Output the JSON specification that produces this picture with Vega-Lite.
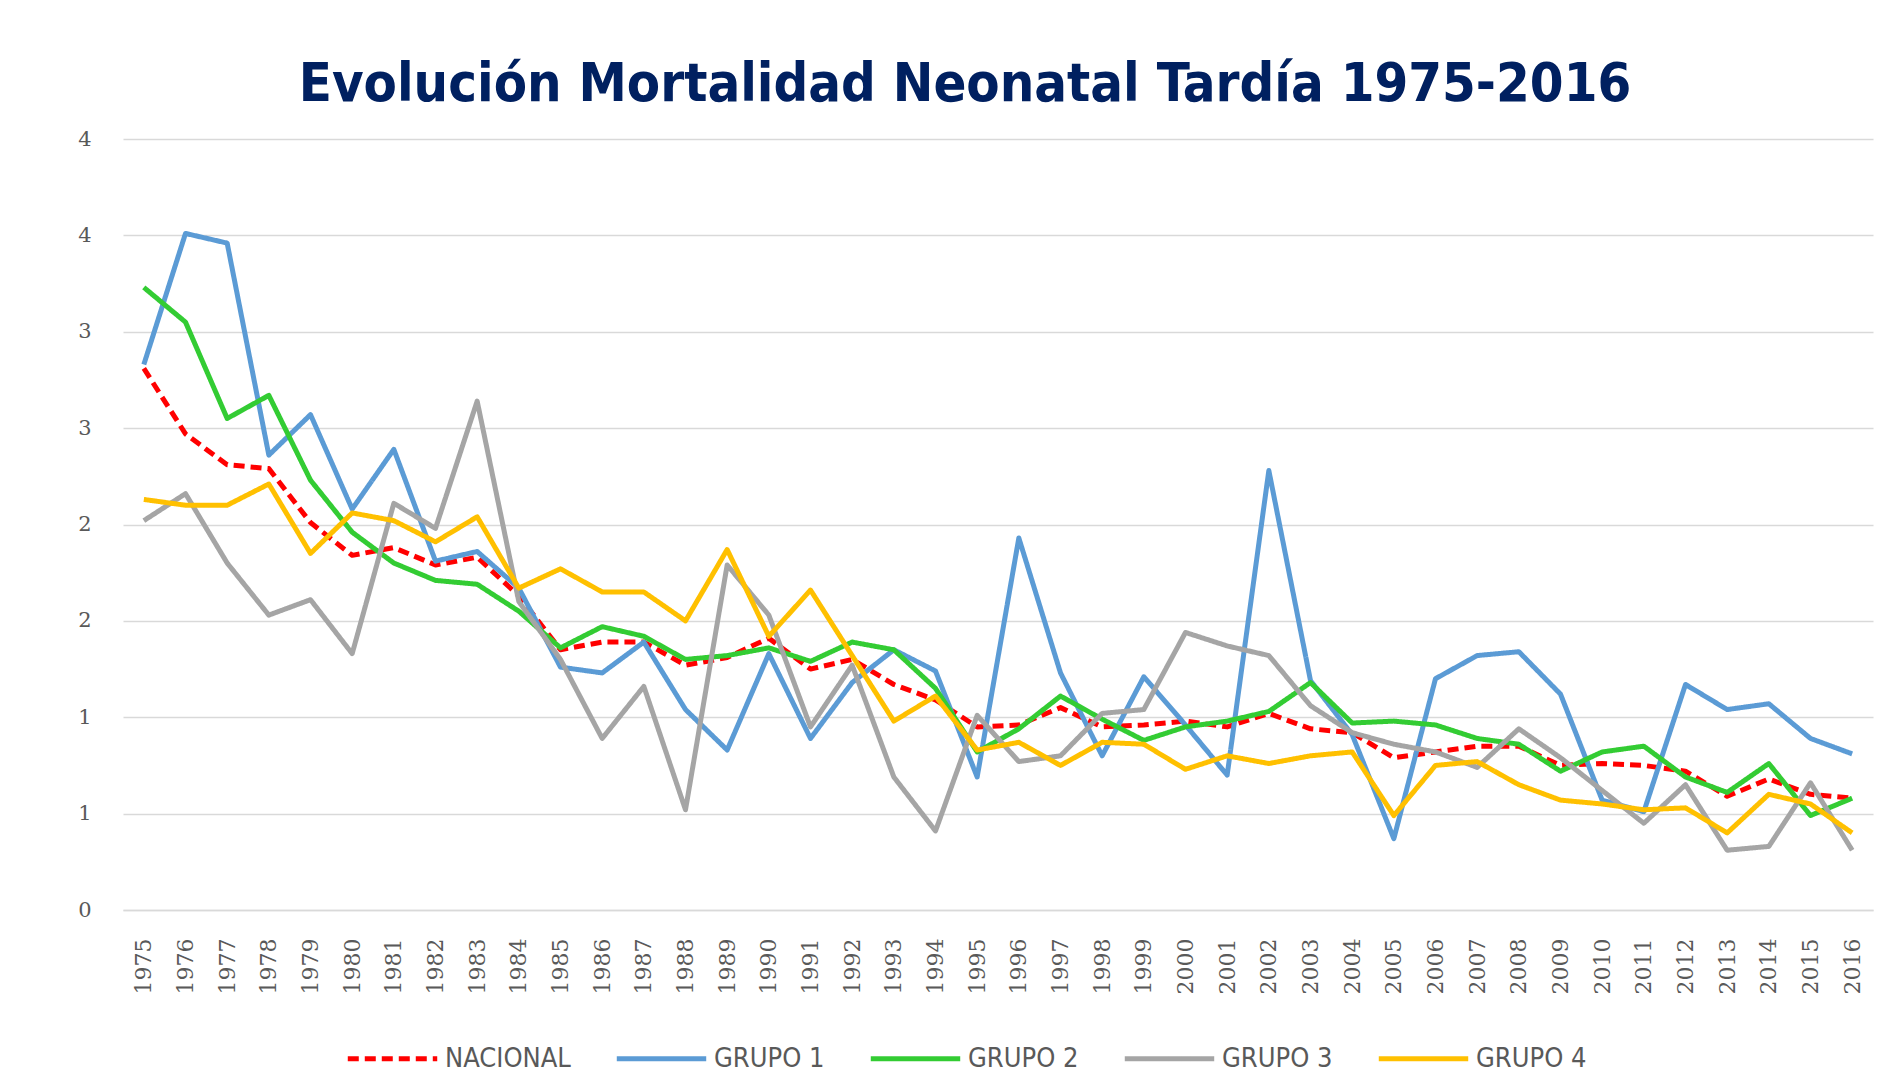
{
 "$schema": "https://vega.github.io/schema/vega-lite/v6.json",
 "width": 1750,
 "height": 771,
 "autosize": "none",
 "padding": {"left": 123, "top": 139, "right": 5, "bottom": 163},
 "background": "white",
 "config": {"view": {"stroke": null}},
 "title": {
  "text": "Evolución Mortalidad Neonatal Tardía 1975-2016",
  "font": "Liberation Sans Narrow, DejaVu Sans Condensed, sans-serif",
  "fontSize": 54,
  "fontWeight": "bold",
  "color": "#002060",
  "anchor": "middle",
  "frame": "group",
  "dx": -33,
  "dy": 68,
  "baseline": "alphabetic",
  "offset": 41
 },
 "datasets": {
  "tabla": [
   {"anio":"1975","NACIONAL":2.81,"GRUPO 1":2.83,"GRUPO 2":3.23,"GRUPO 3":2.02,"GRUPO 4":2.13},
   {"anio":"1976","NACIONAL":2.47,"GRUPO 1":3.51,"GRUPO 2":3.05,"GRUPO 3":2.16,"GRUPO 4":2.10},
   {"anio":"1977","NACIONAL":2.31,"GRUPO 1":3.46,"GRUPO 2":2.55,"GRUPO 3":1.80,"GRUPO 4":2.10},
   {"anio":"1978","NACIONAL":2.29,"GRUPO 1":2.36,"GRUPO 2":2.67,"GRUPO 3":1.53,"GRUPO 4":2.21},
   {"anio":"1979","NACIONAL":2.01,"GRUPO 1":2.57,"GRUPO 2":2.23,"GRUPO 3":1.61,"GRUPO 4":1.85},
   {"anio":"1980","NACIONAL":1.84,"GRUPO 1":2.08,"GRUPO 2":1.96,"GRUPO 3":1.33,"GRUPO 4":2.06},
   {"anio":"1981","NACIONAL":1.88,"GRUPO 1":2.39,"GRUPO 2":1.80,"GRUPO 3":2.11,"GRUPO 4":2.02},
   {"anio":"1982","NACIONAL":1.79,"GRUPO 1":1.81,"GRUPO 2":1.71,"GRUPO 3":1.98,"GRUPO 4":1.91},
   {"anio":"1983","NACIONAL":1.83,"GRUPO 1":1.86,"GRUPO 2":1.69,"GRUPO 3":2.64,"GRUPO 4":2.04},
   {"anio":"1984","NACIONAL":1.63,"GRUPO 1":1.67,"GRUPO 2":1.55,"GRUPO 3":1.60,"GRUPO 4":1.67},
   {"anio":"1985","NACIONAL":1.35,"GRUPO 1":1.26,"GRUPO 2":1.36,"GRUPO 3":1.30,"GRUPO 4":1.77},
   {"anio":"1986","NACIONAL":1.39,"GRUPO 1":1.23,"GRUPO 2":1.47,"GRUPO 3":0.89,"GRUPO 4":1.65},
   {"anio":"1987","NACIONAL":1.39,"GRUPO 1":1.39,"GRUPO 2":1.42,"GRUPO 3":1.16,"GRUPO 4":1.65},
   {"anio":"1988","NACIONAL":1.27,"GRUPO 1":1.04,"GRUPO 2":1.30,"GRUPO 3":0.52,"GRUPO 4":1.50},
   {"anio":"1989","NACIONAL":1.31,"GRUPO 1":0.83,"GRUPO 2":1.32,"GRUPO 3":1.79,"GRUPO 4":1.87},
   {"anio":"1990","NACIONAL":1.41,"GRUPO 1":1.33,"GRUPO 2":1.36,"GRUPO 3":1.53,"GRUPO 4":1.42},
   {"anio":"1991","NACIONAL":1.25,"GRUPO 1":0.89,"GRUPO 2":1.29,"GRUPO 3":0.95,"GRUPO 4":1.66},
   {"anio":"1992","NACIONAL":1.30,"GRUPO 1":1.18,"GRUPO 2":1.39,"GRUPO 3":1.27,"GRUPO 4":1.32},
   {"anio":"1993","NACIONAL":1.17,"GRUPO 1":1.35,"GRUPO 2":1.35,"GRUPO 3":0.69,"GRUPO 4":0.98},
   {"anio":"1994","NACIONAL":1.09,"GRUPO 1":1.24,"GRUPO 2":1.15,"GRUPO 3":0.41,"GRUPO 4":1.11},
   {"anio":"1995","NACIONAL":0.95,"GRUPO 1":0.69,"GRUPO 2":0.82,"GRUPO 3":1.01,"GRUPO 4":0.83},
   {"anio":"1996","NACIONAL":0.96,"GRUPO 1":1.93,"GRUPO 2":0.94,"GRUPO 3":0.77,"GRUPO 4":0.87},
   {"anio":"1997","NACIONAL":1.05,"GRUPO 1":1.23,"GRUPO 2":1.11,"GRUPO 3":0.80,"GRUPO 4":0.75},
   {"anio":"1998","NACIONAL":0.95,"GRUPO 1":0.80,"GRUPO 2":0.99,"GRUPO 3":1.02,"GRUPO 4":0.87},
   {"anio":"1999","NACIONAL":0.96,"GRUPO 1":1.21,"GRUPO 2":0.88,"GRUPO 3":1.04,"GRUPO 4":0.86},
   {"anio":"2000","NACIONAL":0.98,"GRUPO 1":0.96,"GRUPO 2":0.95,"GRUPO 3":1.44,"GRUPO 4":0.73},
   {"anio":"2001","NACIONAL":0.95,"GRUPO 1":0.70,"GRUPO 2":0.98,"GRUPO 3":1.37,"GRUPO 4":0.80},
   {"anio":"2002","NACIONAL":1.02,"GRUPO 1":2.28,"GRUPO 2":1.03,"GRUPO 3":1.32,"GRUPO 4":0.76},
   {"anio":"2003","NACIONAL":0.94,"GRUPO 1":1.19,"GRUPO 2":1.18,"GRUPO 3":1.06,"GRUPO 4":0.80},
   {"anio":"2004","NACIONAL":0.92,"GRUPO 1":0.91,"GRUPO 2":0.97,"GRUPO 3":0.92,"GRUPO 4":0.82},
   {"anio":"2005","NACIONAL":0.79,"GRUPO 1":0.37,"GRUPO 2":0.98,"GRUPO 3":0.86,"GRUPO 4":0.49},
   {"anio":"2006","NACIONAL":0.82,"GRUPO 1":1.20,"GRUPO 2":0.96,"GRUPO 3":0.82,"GRUPO 4":0.75},
   {"anio":"2007","NACIONAL":0.85,"GRUPO 1":1.32,"GRUPO 2":0.89,"GRUPO 3":0.74,"GRUPO 4":0.77},
   {"anio":"2008","NACIONAL":0.85,"GRUPO 1":1.34,"GRUPO 2":0.86,"GRUPO 3":0.94,"GRUPO 4":0.65},
   {"anio":"2009","NACIONAL":0.75,"GRUPO 1":1.12,"GRUPO 2":0.72,"GRUPO 3":0.79,"GRUPO 4":0.57},
   {"anio":"2010","NACIONAL":0.76,"GRUPO 1":0.57,"GRUPO 2":0.82,"GRUPO 3":0.62,"GRUPO 4":0.55},
   {"anio":"2011","NACIONAL":0.75,"GRUPO 1":0.51,"GRUPO 2":0.85,"GRUPO 3":0.45,"GRUPO 4":0.52},
   {"anio":"2012","NACIONAL":0.72,"GRUPO 1":1.17,"GRUPO 2":0.69,"GRUPO 3":0.65,"GRUPO 4":0.53},
   {"anio":"2013","NACIONAL":0.59,"GRUPO 1":1.04,"GRUPO 2":0.61,"GRUPO 3":0.31,"GRUPO 4":0.40},
   {"anio":"2014","NACIONAL":0.68,"GRUPO 1":1.07,"GRUPO 2":0.76,"GRUPO 3":0.33,"GRUPO 4":0.60},
   {"anio":"2015","NACIONAL":0.60,"GRUPO 1":0.89,"GRUPO 2":0.49,"GRUPO 3":0.66,"GRUPO 4":0.55},
   {"anio":"2016","NACIONAL":0.58,"GRUPO 1":0.81,"GRUPO 2":0.58,"GRUPO 3":0.31,"GRUPO 4":0.40}
  ]
 },
 "data": {"name": "tabla"},
 "transform": [
  {"fold": ["NACIONAL", "GRUPO 1", "GRUPO 2", "GRUPO 3", "GRUPO 4"], "as": ["serie", "valor"]}
 ],
 "mark": {"type": "line", "strokeWidth": 5, "strokeJoin": "round"},
 "encoding": {
  "x": {
   "field": "anio",
   "type": "ordinal",
   "axis": {
    "title": null,
    "labelAngle": -90,
    "labelFont": "DejaVu Serif",
    "labelFontSize": 22,
    "labelColor": "#595959",
    "labelPadding": 28,
    "ticks": false,
    "domainColor": "#D9D9D9",
    "domainWidth": 1.5,
    "grid": false
   }
  },
  "y": {
   "field": "valor",
   "type": "quantitative",
   "scale": {"domain": [0, 4], "nice": false},
   "axis": {
    "title": null,
    "values": [0, 0.5, 1, 1.5, 2, 2.5, 3, 3.5, 4],
    "format": ".0f",
    "domain": false,
    "ticks": false,
    "labelPadding": 32,
    "labelFont": "DejaVu Serif",
    "labelFontSize": 21,
    "labelColor": "#595959",
    "gridColor": "#D9D9D9",
    "gridWidth": 1.5
   }
  },
  "color": {
   "field": "serie",
   "type": "nominal",
   "scale": {
    "domain": ["NACIONAL", "GRUPO 1", "GRUPO 2", "GRUPO 3", "GRUPO 4"],
    "range": ["#FF0000", "#5B9BD5", "#33CC33", "#A5A5A5", "#FFC000"]
   },
   "legend": {
    "title": null,
    "orient": "none",
    "legendX": 222,
    "legendY": 872,
    "direction": "horizontal",
    "symbolType": "stroke",
    "symbolSize": 8000,
    "symbolStrokeWidth": 5,
    "labelFont": "Liberation Sans Narrow, DejaVu Sans Condensed, sans-serif",
    "labelFontSize": 27,
    "labelColor": "#595959",
    "labelOffset": 5,
    "columnPadding": 35
   }
  },
  "strokeDash": {
   "field": "serie",
   "type": "nominal",
   "scale": {
    "domain": ["NACIONAL", "GRUPO 1", "GRUPO 2", "GRUPO 3", "GRUPO 4"],
    "range": [[11, 6], [1, 0], [1, 0], [1, 0], [1, 0]]
   },
   "legend": {
    "title": null,
    "orient": "none",
    "legendX": 222,
    "legendY": 872,
    "direction": "horizontal",
    "symbolType": "stroke",
    "symbolSize": 8000,
    "symbolStrokeWidth": 5,
    "labelFont": "Liberation Sans Narrow, DejaVu Sans Condensed, sans-serif",
    "labelFontSize": 27,
    "labelColor": "#595959",
    "labelOffset": 5,
    "columnPadding": 35
   }
  }
 }
}
